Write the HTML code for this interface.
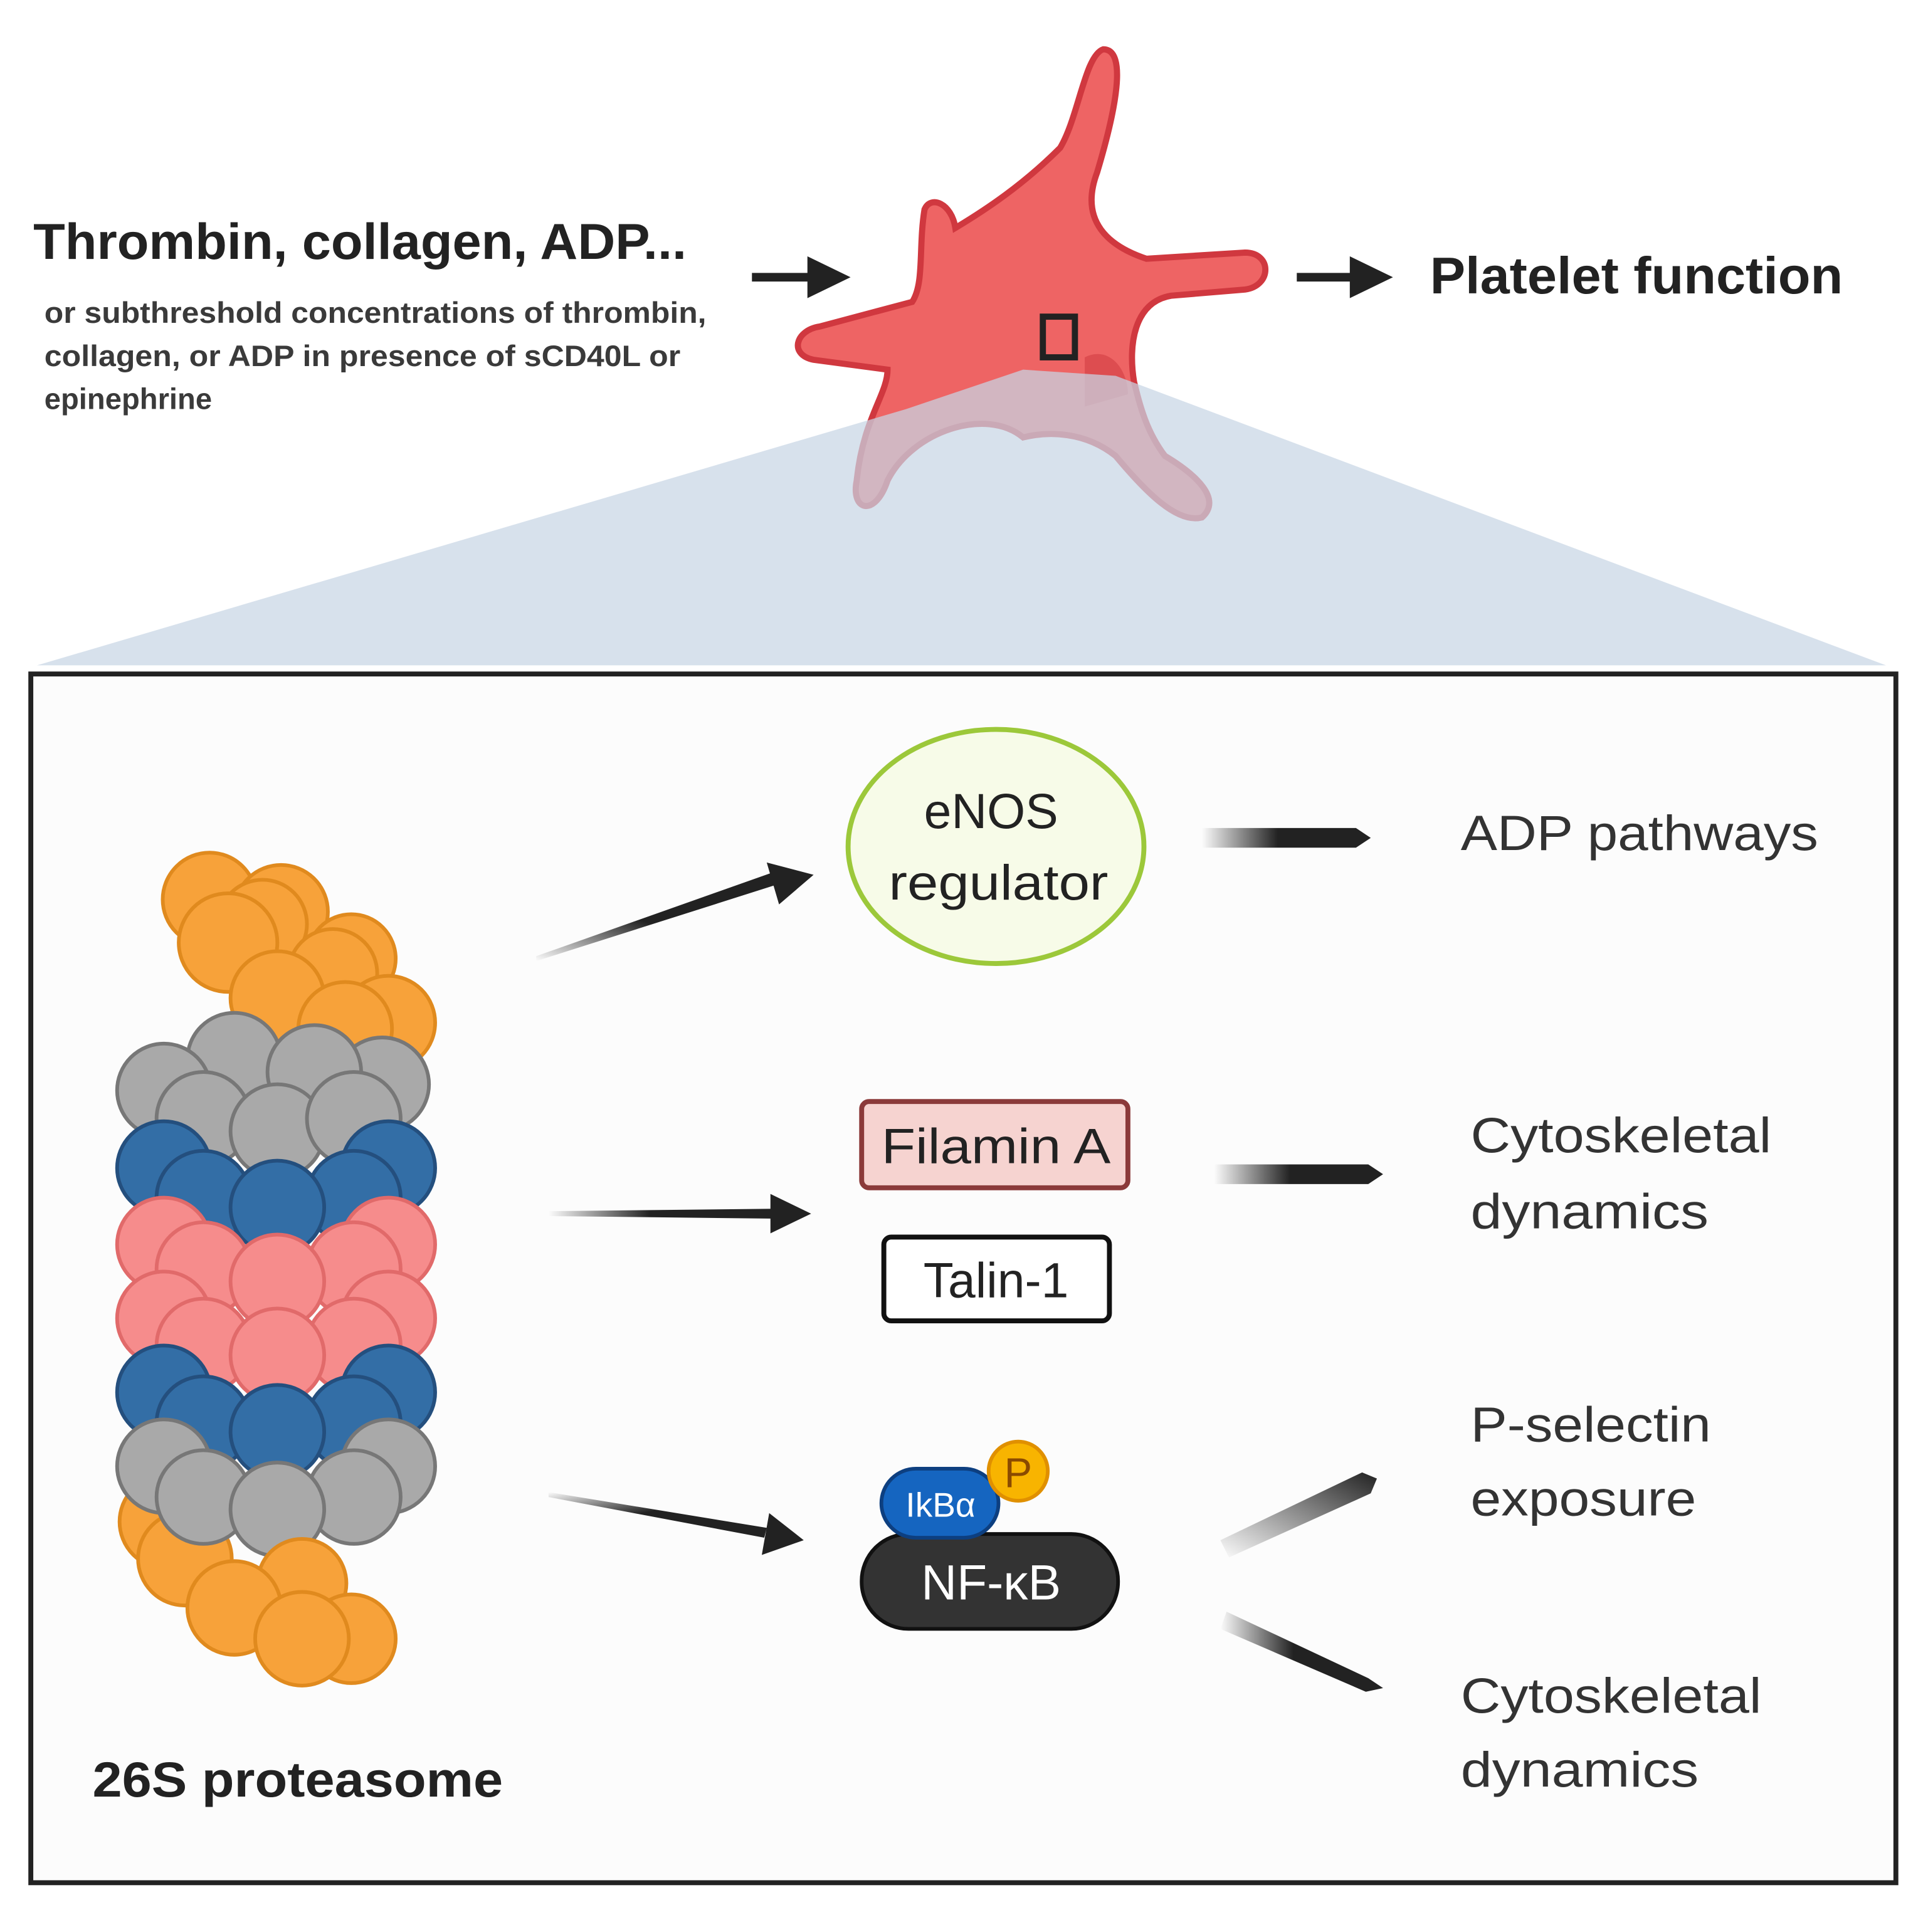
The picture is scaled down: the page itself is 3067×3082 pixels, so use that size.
<!DOCTYPE html>
<html><head><meta charset="utf-8">
<style>
html,body{margin:0;padding:0;background:#fff;}
svg{display:block;}
text{font-family:"Liberation Sans",sans-serif;}
</style></head>
<body>
<svg width="3067" height="3082" viewBox="0 0 1560 1568" preserveAspectRatio="none" xmlns="http://www.w3.org/2000/svg">
<defs>
<linearGradient id="g1" x1="0" x2="1" y1="0" y2="0">
<stop offset="0" stop-color="#222" stop-opacity="0"/><stop offset="0.45" stop-color="#222"/><stop offset="1" stop-color="#222"/>
</linearGradient>
<linearGradient id="g2" x1="0" x2="1" y1="1" y2="0">
<stop offset="0" stop-color="#222" stop-opacity="0"/><stop offset="0.45" stop-color="#222"/><stop offset="1" stop-color="#222"/>
</linearGradient>
<linearGradient id="g3" x1="0" x2="1" y1="0" y2="1">
<stop offset="0" stop-color="#222" stop-opacity="0"/><stop offset="0.45" stop-color="#222"/><stop offset="1" stop-color="#222"/>
</linearGradient>
<linearGradient id="g4" x1="0" x2="1" y1="1" y2="0">
<stop offset="0" stop-color="#222" stop-opacity="0"/><stop offset="1" stop-color="#222"/>
</linearGradient>
</defs>
<rect width="1560" height="1568" fill="#fff"/>

<text x="27" y="210" font-size="41" font-weight="bold" fill="#222" textLength="530" lengthAdjust="spacingAndGlyphs">Thrombin, collagen, ADP...</text>
<text x="36" y="262" font-size="24" font-weight="bold" fill="#3a3a3a" textLength="537" lengthAdjust="spacingAndGlyphs">or subthreshold concentrations of thrombin,</text>
<text x="36" y="297" font-size="24" font-weight="bold" fill="#3a3a3a" textLength="516" lengthAdjust="spacingAndGlyphs">collagen, or ADP in presence of sCD40L or</text>
<text x="36" y="332" font-size="24" font-weight="bold" fill="#3a3a3a">epinephrine</text>

<line x1="610" y1="225" x2="660" y2="225" stroke="#222" stroke-width="7"/>
<polygon points="655,208 690,225 655,242" fill="#222"/>
<line x1="1052" y1="225" x2="1100" y2="225" stroke="#222" stroke-width="7"/>
<polygon points="1095,208 1130,225 1095,242" fill="#222"/>
<text x="1160" y="238" font-size="42" font-weight="bold" fill="#222" textLength="335" lengthAdjust="spacingAndGlyphs">Platelet function</text>

<path d="M895,40 C915,40 905,90 890,140 C875,180 900,200 930,210 L1010,205 C1032,205 1032,232 1010,235 L950,240 C920,245 915,280 920,310 C925,330 930,350 945,370 C970,385 992,405 975,420 C955,425 930,400 905,370 C880,350 850,350 830,355 C800,330 740,350 720,390 C710,420 690,415 695,390 C700,340 720,320 720,300 L660,292 C640,288 645,268 665,265 L740,245 C750,230 745,200 750,170 C755,158 772,165 775,185 C800,170 830,150 860,120 C875,95 880,45 895,40 Z" fill="#ee6464" stroke="#d0383f" stroke-width="5"/>
<path d="M880,290 C900,280 915,300 915,320 L880,330 Z" fill="#dd4d50"/>

<polygon points="30,540 735,332 830,300 905,305 1530,540" fill="#c8d5e5" fill-opacity="0.72"/>
<rect x="846" y="257" width="26" height="33" fill="none" stroke="#222" stroke-width="5"/>

<rect x="25" y="547" width="1513" height="981" fill="#fcfcfc" stroke="#222" stroke-width="4"/>

<g stroke-width="3">
<g fill="#f7a23a" stroke="#e08a1e">
<circle cx="170" cy="730" r="38"/><circle cx="228" cy="740" r="38"/><circle cx="213" cy="750" r="36"/>
<circle cx="185" cy="765" r="40"/><circle cx="285" cy="778" r="36"/><circle cx="270" cy="790" r="36"/>
<circle cx="225" cy="810" r="38"/><circle cx="315" cy="830" r="38"/><circle cx="280" cy="835" r="38"/>
</g>
<g fill="#a9a9a9" stroke="#777">
<circle cx="190" cy="860" r="38"/><circle cx="310" cy="880" r="38"/>
<circle cx="133" cy="885" r="38"/><circle cx="255" cy="870" r="38"/>
<circle cx="165" cy="908" r="38"/><circle cx="225" cy="918" r="38"/><circle cx="287" cy="908" r="38"/>
</g>
<g fill="#336ea6" stroke="#244f7e">
<circle cx="133" cy="948" r="38"/><circle cx="315" cy="948" r="38"/>
<circle cx="165" cy="972" r="38"/><circle cx="287" cy="972" r="38"/><circle cx="225" cy="980" r="38"/>
</g>
<g fill="#f68c8c" stroke="#e16a6a">
<circle cx="133" cy="1010" r="38"/><circle cx="315" cy="1010" r="38"/>
<circle cx="165" cy="1030" r="38"/><circle cx="287" cy="1030" r="38"/><circle cx="225" cy="1040" r="38"/>
<circle cx="133" cy="1070" r="38"/><circle cx="315" cy="1070" r="38"/>
<circle cx="165" cy="1092" r="38"/><circle cx="287" cy="1092" r="38"/><circle cx="225" cy="1100" r="38"/>
</g>
<g fill="#336ea6" stroke="#244f7e">
<circle cx="133" cy="1130" r="38"/><circle cx="315" cy="1130" r="38"/>
<circle cx="165" cy="1155" r="38"/><circle cx="287" cy="1155" r="38"/><circle cx="225" cy="1162" r="38"/>
</g>
<g fill="#f7a23a" stroke="#e08a1e">
<circle cx="135" cy="1235" r="38"/><circle cx="150" cy="1265" r="38"/>
</g>
<g fill="#a9a9a9" stroke="#777">
<circle cx="133" cy="1190" r="38"/><circle cx="315" cy="1190" r="38"/>
<circle cx="165" cy="1215" r="38"/><circle cx="287" cy="1215" r="38"/><circle cx="225" cy="1225" r="38"/>
</g>
<g fill="#f7a23a" stroke="#e08a1e">
<circle cx="245" cy="1285" r="36"/><circle cx="285" cy="1330" r="36"/>
<circle cx="190" cy="1305" r="38"/><circle cx="245" cy="1330" r="38"/>
</g>
</g>
<text x="75" y="1458" font-size="40" font-weight="bold" fill="#222" textLength="333" lengthAdjust="spacingAndGlyphs">26S proteasome</text>

<polygon points="435,780 630,718 627,708 435,776" fill="url(#g2)"/>
<polygon points="622,700 660,710 632,734" fill="#222"/>
<polygon points="445,983 628,981 628,989 445,987" fill="url(#g1)"/>
<polygon points="625,969 658,985 625,1001" fill="#222"/>
<polygon points="445,1211 622,1240 620,1248 445,1215" fill="url(#g3)"/>
<polygon points="624,1228 652,1250 618,1262" fill="#222"/>

<ellipse cx="808" cy="687" rx="120" ry="95" fill="#f7fbe8" stroke="#9cc83a" stroke-width="4"/>
<text x="804" y="672" font-size="40" text-anchor="middle" fill="#222">eNOS</text>
<text x="810" y="730" font-size="40" text-anchor="middle" fill="#222" textLength="178" lengthAdjust="spacingAndGlyphs">regulator</text>

<rect x="699" y="894" width="216" height="70" rx="6" fill="#f6d3d0" stroke="#8b3a3a" stroke-width="4"/>
<text x="808" y="944" font-size="40" text-anchor="middle" fill="#222" textLength="186" lengthAdjust="spacingAndGlyphs">Filamin A</text>
<rect x="717" y="1004" width="183" height="68" rx="6" fill="#fff" stroke="#111" stroke-width="4"/>
<text x="808" y="1053" font-size="40" text-anchor="middle" fill="#222">Talin-1</text>

<rect x="699" y="1245" width="208" height="77" rx="38" fill="#333" stroke="#111" stroke-width="3"/>
<text x="804" y="1298" font-size="40" text-anchor="middle" fill="#fff">NF-κB</text>
<rect x="715" y="1192" width="95" height="56" rx="28" fill="#1565c0" stroke="#0d3f80" stroke-width="3"/>
<text x="763" y="1231" font-size="28" text-anchor="middle" fill="#fff">IkBα</text>
<circle cx="826" cy="1194" r="24" fill="#f8b400" stroke="#e09000" stroke-width="3"/>
<text x="826" y="1207" font-size="34" text-anchor="middle" fill="#8a4a00">P</text>

<polygon points="975,672 1100,672 1112,680 1100,688 975,688" fill="url(#g1)"/>
<polygon points="985,945 1110,945 1122,953 1110,961 985,961" fill="url(#g1)"/>
<polygon points="990,1250 1105,1195 1117,1200 1112,1212 997,1264" fill="url(#g4)"/>
<polygon points="995,1308 1110,1362 1122,1370 1108,1373 990,1322" fill="url(#g1)"/>

<g font-size="40" fill="#333" lengthAdjust="spacingAndGlyphs">
<text x="1185" y="690" textLength="290" lengthAdjust="spacingAndGlyphs">ADP pathways</text>
<text x="1193" y="935" textLength="244" lengthAdjust="spacingAndGlyphs">Cytoskeletal</text>
<text x="1193" y="997" textLength="193" lengthAdjust="spacingAndGlyphs">dynamics</text>
<text x="1193" y="1170" textLength="195" lengthAdjust="spacingAndGlyphs">P-selectin</text>
<text x="1193" y="1230" textLength="183" lengthAdjust="spacingAndGlyphs">exposure</text>
<text x="1185" y="1390" textLength="244" lengthAdjust="spacingAndGlyphs">Cytoskeletal</text>
<text x="1185" y="1450" textLength="193" lengthAdjust="spacingAndGlyphs">dynamics</text>
</g>
</svg>
</body></html>
